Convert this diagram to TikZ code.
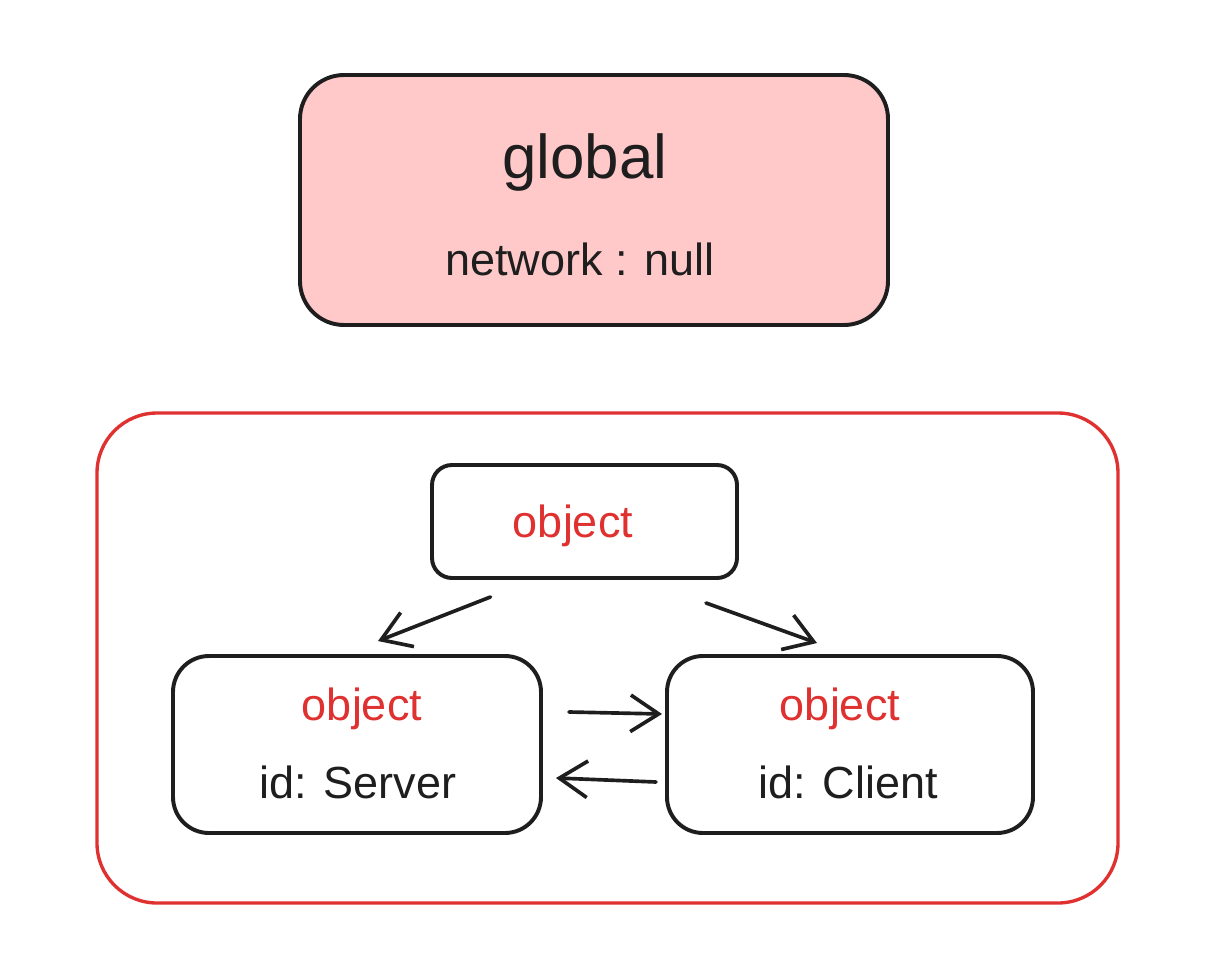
\documentclass[tikz,border=0pt]{standalone}
\usepackage{fontspec}
\setmainfont{Liberation Sans}
\usetikzlibrary{arrows.meta,positioning}
\definecolor{inkdark}{HTML}{1E1E1E}
\definecolor{inkred}{HTML}{E03131}
\definecolor{pinkfill}{HTML}{FFC9C9}
\tikzset{
  box/.style={draw=inkdark, line width=2.8pt, rounded corners=0.6cm, inner sep=0pt},
  arr/.style={draw=inkdark, line width=2.6pt, line cap=round,
    -{Straight Barb[length=20pt,width=26pt]}},
  labeltext/.style={text=inkdark, font=\fontsize{32}{36}\selectfont},
  redtext/.style={labeltext, text=inkred},
  titletext/.style={labeltext, font=\fontsize{44}{48}\selectfont},
}
\begin{document}
\begin{tikzpicture}[x=0.025cm, y=-0.025cm]
  \useasboundingbox (0,0) rectangle (1212,974);
  % global scope box
  \node[box, fill=pinkfill, rounded corners=1.1cm,
    minimum width=588*0.025cm, minimum height=250*0.025cm] (global) at (594,200) {};
  \node[titletext] (globaltitle) at (585,163) {global};
  \node[labeltext] (globalnet) at (580,259) {network : null};
  % red container
  \node[box, draw=inkred, line width=2.4pt, rounded corners=1.5cm,
    minimum width=1021*0.025cm, minimum height=490*0.025cm] (scene) at (607.5,658) {};
  % objects
  \node[box, rounded corners=0.5cm,
    minimum width=305*0.025cm, minimum height=113*0.025cm] (objtop) at (584.5,521.5) {};
  \node[redtext] (objtoplabel) at (573,526) {object};
  \node[box, rounded corners=0.9cm,
    minimum width=368*0.025cm, minimum height=177*0.025cm] (server) at (357,744.5) {};
  \node[redtext] (serverlabel) at (362,709) {object};
  \node[labeltext] (serverid) at (358,782) {id: Server};
  \node[box, rounded corners=0.9cm,
    minimum width=366*0.025cm, minimum height=177*0.025cm] (client) at (850,744.5) {};
  \node[redtext] (clientlabel) at (840,709) {object};
  \node[labeltext] (clientid) at (848,782) {id: Client};
  % connectors
  \draw[arr] ([shift={(-94,17)}]objtop.south) -- ([shift={(21,-13)}]server.north);
  \draw[arr] ([shift={(121.5,23)}]objtop.south) -- ([shift={(-33,-11)}]client.north);
  \draw[arr] ([shift={(26,-32.5)}]server.east) -- ([shift={(-3,-30.5)}]client.west);
  \draw[arr] ([shift={(-9,37.5)}]client.west) -- ([shift={(13,33.5)}]server.east);
\end{tikzpicture}
\end{document}
